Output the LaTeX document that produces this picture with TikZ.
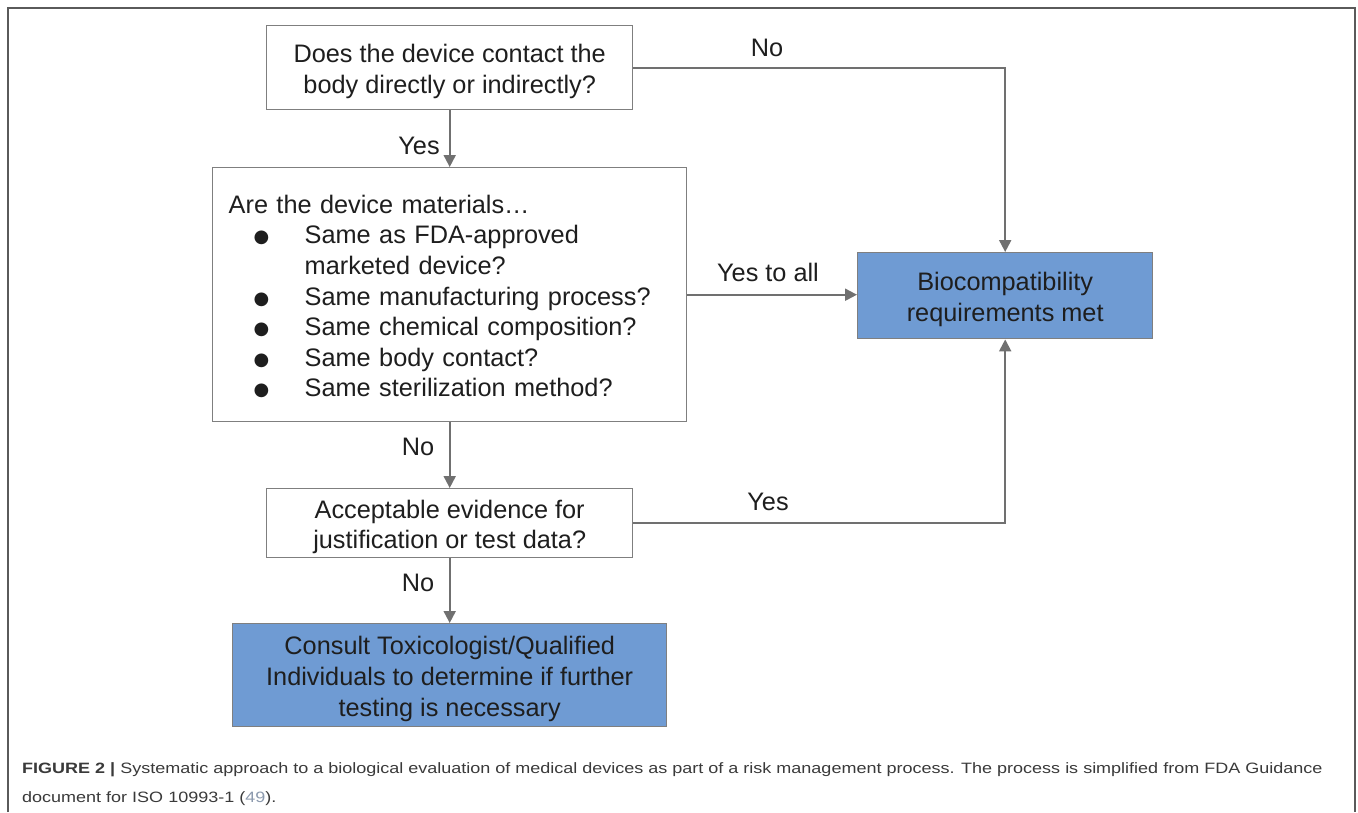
\documentclass[tikz,border=0pt]{standalone}
\usepackage{fontspec}
\setmainfont{Liberation Sans}
\newfontfamily\dejavu{DejaVu Sans}
\newfontfamily\capfont[FakeStretch=1.2]{Liberation Sans}
\usetikzlibrary{arrows.meta}
\definecolor{boxline}{HTML}{7F7F7F}
\definecolor{arrline}{HTML}{707070}
\definecolor{bluefill}{HTML}{6F9BD3}
\definecolor{txt}{HTML}{1E1E1E}
\definecolor{captxt}{HTML}{3A3A3A}
\definecolor{frameline}{HTML}{5A5A5A}
\definecolor{linkcol}{HTML}{8C9AAE}
\tikzset{
  flowbox/.style={draw=boxline, line width=1.4pt, fill=white, inner sep=0pt, anchor=north west,
    align=center, text=txt, font=\fontsize{25.3}{30.6}\selectfont},
  bluebox/.style={flowbox, fill=bluefill},
  arr/.style={draw=arrline, line width=2pt, -{Triangle[length=12pt,width=12pt]}},
  lbl/.style={text=txt, font=\fontsize{25.3}{30.6}\selectfont, inner sep=0pt},
}
\newcommand{\bul}{\makebox[51pt][l]{\raisebox{1pt}{\dejavu\fontsize{18}{18}\selectfont ●}}}
\newcommand{\toppad}{\rule{0pt}{26pt}}
\begin{document}
\begin{tikzpicture}[x=1pt,y=-1pt]
\useasboundingbox (0,0) rectangle (1358,812);
\fill[white] (0,0) rectangle (1358,812);
% outer frame
\draw[frameline, line width=1.5pt] (8,812) -- (8,8) -- (1355,8) -- (1355,812);

\node[flowbox, minimum width=366pt, minimum height=84pt] (b1) at (266,25)
  {\toppad Does the device contact the\\body directly or indirectly?};
\node[flowbox, minimum width=474pt, minimum height=254pt, align=left, text width=442pt] (b2) at (212,167)
  {\rule{0pt}{22pt}Are the device materials\ldots\\
   \hspace*{25pt}\bul Same as FDA-approved\\
   \hspace*{76pt}marketed device?\\
   \hspace*{25pt}\bul Same manufacturing process?\\
   \hspace*{25pt}\bul Same chemical composition?\\
   \hspace*{25pt}\bul Same body contact?\\
   \hspace*{25pt}\bul Same sterilization method?};
\node[flowbox, minimum width=366pt, minimum height=69pt] (b3) at (266,488)
  {\toppad Acceptable evidence for\\justification or test data?};
\node[bluebox, minimum width=434pt, minimum height=103pt] (b4) at (232,623)
  {\toppad Consult Toxicologist/Qualified\\Individuals to determine if further\\testing is necessary};
\node[bluebox, minimum width=295pt, minimum height=86pt] (b5) at (857,252)
  {\toppad Biocompatibility\\requirements met};

\draw[arr] (b1.south) -- (b2.north);
\draw[arr] (b1.east) -| (b5.north);
\draw[arr] (b2.east) -- (b2.east -| b5.west);
\draw[arr] (b2.south) -- (b3.north);
\draw[arr] (b3.east) -| (b5.south);
\draw[arr] (b3.south) -- (b4.north);

\node[lbl] (l1) at (767,48) {No};
\node[lbl] (l2) at (419,146) {Yes};
\node[lbl] (l3) at (768,272) {Yes to all};
\node[lbl] (l4) at (418,447) {No};
\node[lbl] (l5) at (768,502) {Yes};
\node[lbl] (l6) at (418,583) {No};

\node[anchor=north west, inner sep=0pt, align=left, text=captxt, font=\capfont\fontsize{15}{29}\selectfont] (cap) at (22,762)
  {\textbf{FIGURE 2 |} Systematic approach to a biological evaluation of medical devices as part of a risk management process. The process is simplified from FDA Guidance\\
   document for ISO 10993-1 ({\color{linkcol}49}).};
\end{tikzpicture}
\end{document}
